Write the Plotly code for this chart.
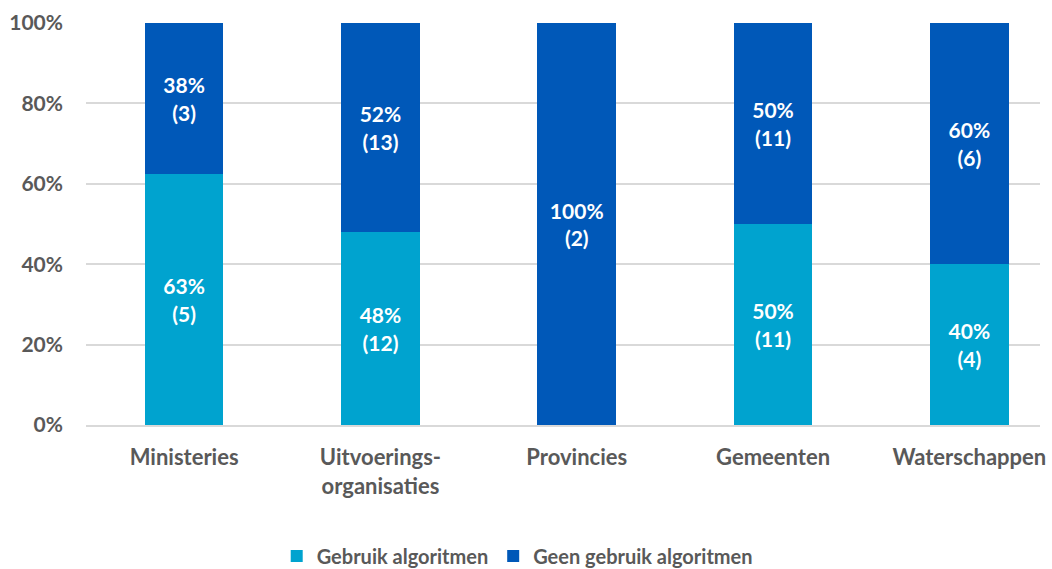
import plotly.graph_objects as go

categories = ["Ministeries", "Uitvoerings-<br>organisaties", "Provincies", "Gemeenten", "Waterschappen"]
gebruik_pct = [62.5, 48, 0, 50, 40]
gebruik_lbl = ["63%<br>(5)", "48%<br>(12)", "", "50%<br>(11)", "40%<br>(4)"]
geen_pct = [37.5, 52, 100, 50, 60]
geen_lbl = ["38%<br>(3)", "52%<br>(13)", "100%<br>(2)", "50%<br>(11)", "60%<br>(6)"]
y_ticks = [0, 20, 40, 60, 80, 100]
y_tick_text = ["0%", "20%", "40%", "60%", "80%", "100%"]

FONT = "Lato, Calibri, Carlito, sans-serif"
GRAY = "#595959"

fig = go.Figure()
fig.add_trace(go.Bar(
    name="Gebruik algoritmen", x=list(range(len(categories))), y=gebruik_pct,
    text=gebruik_lbl, textposition="inside", insidetextanchor="middle", textangle=0,
    textfont=dict(family=FONT, size=21, color="white", weight="bold"),
    marker=dict(color="#00A3CF", line=dict(width=0)), width=0.4,
    hoverinfo="skip",
))
fig.add_trace(go.Bar(
    name="Geen gebruik algoritmen", x=list(range(len(categories))), y=geen_pct,
    text=geen_lbl, textposition="inside", insidetextanchor="middle", textangle=0,
    textfont=dict(family=FONT, size=21, color="white", weight="bold"),
    marker=dict(color="#0058B8", line=dict(width=0)), width=0.4,
    hoverinfo="skip",
))

fig.update_layout(
    barmode="stack",
    width=1052, height=569,
    margin=dict(l=86, r=12, t=23, b=144, autoexpand=False),
    plot_bgcolor="white", paper_bgcolor="white",
    font=dict(family=FONT, color=GRAY, size=20, weight="bold"),
    uniformtext=dict(mode="show", minsize=10),
    legend=dict(orientation="h", x=0.452, xanchor="center", xref="paper",
                y=-0.326, yanchor="middle",
                font=dict(family=FONT, size=20, color=GRAY, weight="bold"),
                traceorder="normal"),
    showlegend=True,
)
fig.update_xaxes(
    tickmode="array", tickvals=list(range(len(categories))), ticktext=categories,
    range=[-0.5, 4.36], showgrid=False, zeroline=False,
    showline=True, linecolor="#D9D9D9", linewidth=1.5,
    ticks="", ticklabelstandoff=12, automargin=False,
    tickfont=dict(family=FONT, size=22, color=GRAY, weight="bold"),
)
fig.update_yaxes(
    range=[0, 100], tickmode="array", tickvals=y_ticks, ticktext=y_tick_text,
    showgrid=True, gridcolor="#D9D9D9", gridwidth=1.5, zeroline=False,
    showline=False, ticks="", ticklabelstandoff=22, automargin=False,
    tickfont=dict(family=FONT, size=21, color=GRAY, weight="bold"),
)

fig.write_html(
    "out.html",
    config={"displayModeBar": False},
    post_script="document.body.style.margin='0';document.body.style.overflow='hidden';",
)
